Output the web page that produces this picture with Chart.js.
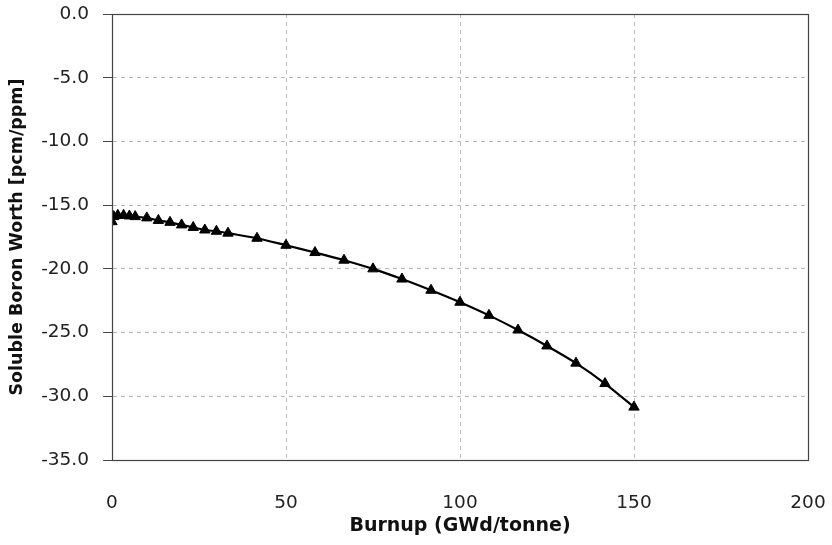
<!DOCTYPE html>
<html>
<head>
<meta charset="utf-8">
<script src="https://cdn.jsdelivr.net/npm/chart.js@4"></script>
<style>
html,body{margin:0;padding:0;background:#fff;}
#wrap{width:832px;height:545px;}
</style>
</head>
<body>
<div id="wrap"><canvas id="c" width="832" height="545"></canvas></div>
<script>
const burnup = [0, 0.5, 1.67, 3.33, 5, 6.67, 10, 13.33, 16.67, 20, 23.33, 26.67, 30, 33.33, 41.67, 50, 58.33, 66.67, 75, 83.33, 91.67, 100, 108.33, 116.67, 125, 133.33, 141.67, 150];
const boronWorth = [-16.3, -15.9, -15.8, -15.8, -15.85, -15.9, -16.0, -16.2, -16.35, -16.55, -16.75, -16.95, -17.05, -17.2, -17.6, -18.15, -18.72, -19.32, -20.0, -20.8, -21.68, -22.62, -23.65, -24.8, -26.05, -27.4, -29.0, -30.85];
const xTicks = [0, 50, 100, 150, 200];
const yTicks = [0, -5, -10, -15, -20, -25, -30, -35];
const xTitle = 'Burnup (GWd/tonne)';
const yTitle = 'Soluble Boron Worth [pcm/ppm]';

const points = burnup.map((b, i) => ({x: b, y: boronWorth[i]}));

const frame = {
  id: 'frame',
  afterDraw(chart) {
    const a = chart.chartArea, ctx = chart.ctx;
    ctx.save();
    ctx.strokeStyle = '#444';
    ctx.lineWidth = 1.2;
    ctx.setLineDash([]);
    ctx.strokeRect(Math.round(a.left) + 0.5, Math.round(a.top) + 0.5, Math.round(a.right - a.left), Math.round(a.bottom - a.top));
    ctx.restore();
  }
};

new Chart(document.getElementById('c'), {
  type: 'scatter',
  data: {
    datasets: [{
      data: points,
      showLine: true,
      borderColor: '#000',
      backgroundColor: '#000',
      borderWidth: 2.2,
      pointStyle: 'triangle',
      pointRadius: 6,
      pointBorderWidth: 1,
      pointBorderColor: '#000',
      tension: 0.3
    }]
  },
  options: {
    responsive: false,
    animation: false,
    layout: {padding: {top: 14, right: 24, left: 0, bottom: 0}},
    plugins: {legend: {display: false}, tooltip: {enabled: false}},
    scales: {
      x: {
        type: 'linear',
        min: 0, max: 200,
        afterBuildTicks: s => { s.ticks = xTicks.map(v => ({value: v})); },
        afterFit: s => { s.height = 85; s.paddingLeft = 0; s.paddingRight = 0; },
        ticks: {
          color: '#222',
          padding: 32,
          font: {family: 'DejaVu Sans', size: 18.5},
          maxRotation: 0
        },
        grid: {color: '#bbb', drawTicks: false, lineWidth: 1},
        border: {display: true, color: '#444', dash: [4, 4]},
        title: {
          display: true, text: xTitle, color: '#111',
          font: {family: 'DejaVu Sans', size: 19, weight: 'bold'},
          padding: {top: 0, bottom: 8}
        }
      },
      y: {
        type: 'linear',
        min: -35, max: 0,
        afterBuildTicks: s => { s.ticks = yTicks.slice().reverse().map(v => ({value: v})); },
        afterFit: s => { s.width = 112; s.paddingTop = 0; s.paddingBottom = 0; },
        ticks: {
          color: '#222',
          padding: 14,
          font: {family: 'DejaVu Sans', size: 18.5},
          callback: v => Number(v).toFixed(1)
        },
        grid: {color: '#bbb', drawTicks: true, tickLength: 9, tickColor: '#444', tickBorderDash: [], lineWidth: 1},
        border: {display: true, color: '#444', dash: [4, 4]},
        title: {
          display: true, text: yTitle, color: '#111',
          font: {family: 'DejaVu Sans', size: 17.5, weight: 'bold'},
          padding: {top: 7, bottom: 0}
        }
      }
    }
  },
  plugins: [frame]
});
</script>
</body>
</html>
